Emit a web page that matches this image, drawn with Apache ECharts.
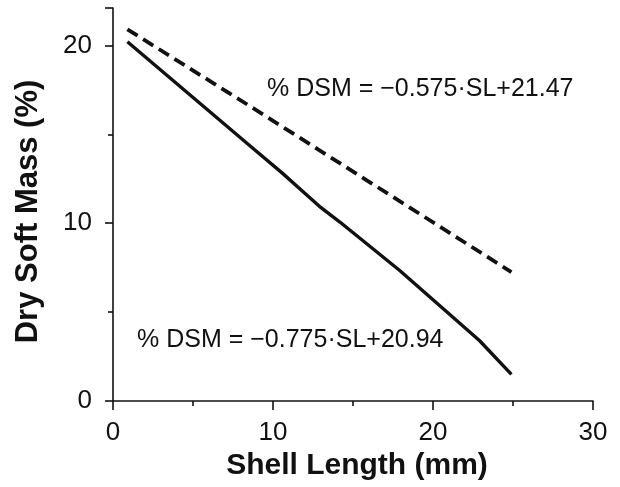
<!DOCTYPE html>
<html><head><meta charset="utf-8">
<script src="https://cdn.jsdelivr.net/npm/echarts@6/dist/echarts.min.js"></script>
<style>html,body{margin:0;padding:0;background:#fff}#c{width:620px;height:487px}</style>
</head><body><div id="c"></div>
<script>
var solidX = [0.9, 8.5, 10.6, 11.9, 12.9, 14.2, 17.9, 22.9, 24.9];
var solidDSM = [20.2, 14.4, 12.8, 11.75, 10.95, 10.05, 7.35, 3.4, 1.5];
var dashedX = [0.9, 8.7, 24.9];
var dashedDSM = [20.9, 16.5, 7.25];
var xTicks = [0, 10, 20, 30];
var yTicks = [0, 10, 20];
var eqDashed = '% DSM = \u22120.575\u00b7SL+21.47';
var eqSolid = '% DSM = \u22120.775\u00b7SL+20.94';

function pairs(xs, ys){ return xs.map(function(x,i){ return [x, ys[i]]; }); }

var chart = echarts.init(document.getElementById('c'), null, {renderer:'canvas'});
var font = 'Liberation Sans, Arial, Helvetica, sans-serif';
var ink = '#111';
chart.setOption({
  animation:false,
  backgroundColor:'#fff',
  grid:{left:113, right:27, top:8, bottom:86},
  xAxis:{
    type:'value', min:0, max:30, interval:10,
    name:'Shell Length (mm)', nameLocation:'middle', nameGap:36,
    nameTextStyle:{fontFamily:font, fontWeight:'bold', fontSize:30, color:ink, padding:[0,0,0,8]},
    axisLine:{show:true, lineStyle:{color:ink, width:1.6}},
    axisTick:{show:true, inside:false, length:9, lineStyle:{color:ink, width:1.6}},
    minorTick:{show:true, splitNumber:2, length:5, lineStyle:{color:ink, width:1.6}},
    axisLabel:{fontFamily:font, fontSize:26, color:ink, margin:19,
      formatter:function(v){ return xTicks.indexOf(v)>=0 ? String(v) : ''; }},
    splitLine:{show:false}
  },
  yAxis:{
    type:'value', min:0, max:22.1, interval:10,
    name:'Dry Soft Mass (%)', nameLocation:'middle', nameGap:69, nameRotate:90,
    nameTextStyle:{fontFamily:font, fontWeight:'bold', fontSize:31, color:ink, padding:[0,14,0,0]},
    axisLine:{show:true, lineStyle:{color:ink, width:1.6}},
    axisTick:{show:true, inside:false, length:8, lineStyle:{color:ink, width:1.6}},
    minorTick:{show:true, splitNumber:2, length:5, lineStyle:{color:ink, width:1.6}},
    axisLabel:{fontFamily:font, fontSize:26, color:ink, margin:21,
      formatter:function(v){ return yTicks.indexOf(v)>=0 ? String(v) : ''; }},
    splitLine:{show:false}
  },
  series:[
    {type:'line', data:pairs(dashedX, dashedDSM), showSymbol:false, smooth:false,
     lineStyle:{color:ink, width:3.8, type:[12,6.5], cap:'butt'}},
    {type:'line', data:pairs(solidX, solidDSM), showSymbol:false, smooth:false,
     lineStyle:{color:ink, width:3.4, join:'round'}}
  ],
  graphic:[
    {type:'text', x:267, y:89, style:{text:eqDashed, fontFamily:font, fontSize:25, fill:ink, textVerticalAlign:'middle', verticalAlign:'middle'}},
    {type:'text', x:137, y:340, style:{text:eqSolid, fontFamily:font, fontSize:25, fill:ink, textVerticalAlign:'middle', verticalAlign:'middle'}}
  ]
});
</script></body></html>
